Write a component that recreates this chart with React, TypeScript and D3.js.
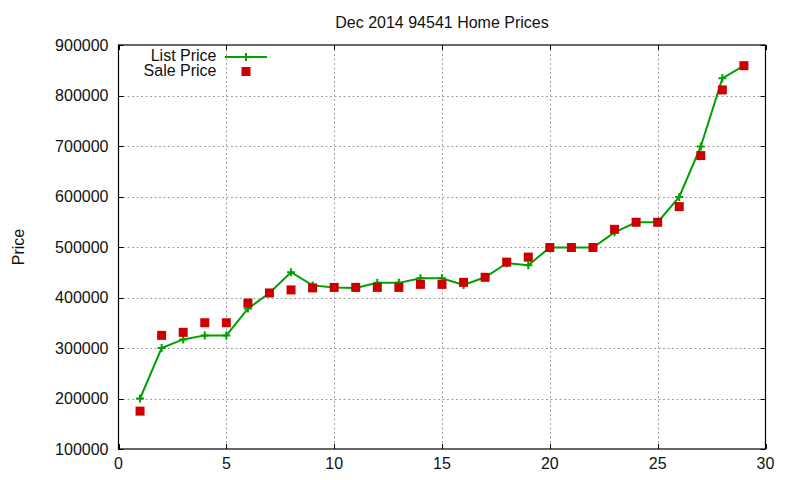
import React from "react";
import * as d3 from "d3";

const days = [1, 2, 3, 4, 5, 6, 7, 8, 9, 10, 11, 12, 13, 14, 15, 16, 17, 18, 19, 20, 21, 22, 23, 24, 25, 26, 27, 28, 29];
const listPrice = [200000, 300000, 317000, 325000, 325000, 378000, 409000, 450000, 424000, 420000, 419000, 429000, 429000, 438000, 438000, 425000, 440000, 468000, 464000, 499000, 499000, 499000, 529000, 549000, 549000, 599000, 699000, 834000, 859000];
const salePrice = [175000, 325000, 331000, 350000, 350000, 389000, 409000, 415000, 419000, 420000, 420000, 420000, 420000, 426000, 426000, 430000, 440000, 470000, 480000, 499000, 499000, 499000, 535000, 549000, 549000, 580000, 681000, 811000, 859000];
const xTicks = [0, 5, 10, 15, 20, 25, 30];
const yTicks = [100000, 200000, 300000, 400000, 500000, 600000, 700000, 800000, 900000];
const title = "Dec 2014 94541 Home Prices";
const yLabel = "Price";
const seriesNames = ["List Price", "Sale Price"];

const W = 800;
const H = 480;
const M = { left: 118.5, right: 765.5, top: 45, bottom: 449 };
const FONT = "'Liberation Sans', Arial, sans-serif";
const GREEN = "#00a000";
const RED = "#cc0000";
const FS = 16;
const TXT = "#111";

export default function App() {
  const x = d3.scaleLinear().domain([0, 30]).range([M.left, M.right]);
  const y = d3.scaleLinear().domain([100000, 900000]).range([M.bottom, M.top]);
  const pts: [number, number][] = days.map((d, i) => [x(d), y(listPrice[i])]);
  const line = d3.line()(pts) || "";
  const tick = 5;
  const plus = (cx: number, cy: number, r: number, key: string) => (
    <path key={key} d={`M${cx - r},${cy}H${cx + r}M${cx},${cy - r}V${cy + r}`} stroke={GREEN} strokeWidth={2} fill="none" />
  );
  return (
    <svg width={W} height={H} style={{ position: "fixed", left: 0, top: 0, display: "block", background: "#fff" }} fontFamily={FONT}>
      <rect x={0} y={0} width={W} height={H} fill="#fff" />
      {/* grid */}
      <g stroke="#a0a0a0" strokeWidth={1} strokeDasharray="2,2.5">
        {xTicks.slice(1, -1).map((t) => (
          <line key={"gx" + t} x1={Math.round(x(t)) + 0.5} x2={Math.round(x(t)) + 0.5} y1={M.top} y2={M.bottom} />
        ))}
        {yTicks.slice(1, -1).map((t) => (
          <line key={"gy" + t} x1={M.left} x2={M.right} y1={Math.round(y(t)) + 0.5} y2={Math.round(y(t)) + 0.5} />
        ))}
      </g>
      {/* ticks */}
      <g stroke="#000" strokeWidth={1}>
        {xTicks.map((t) => (
          <g key={"tx" + t}>
            <line x1={Math.round(x(t)) + 0.5} x2={Math.round(x(t)) + 0.5} y1={M.bottom} y2={M.bottom - tick} />
            <line x1={Math.round(x(t)) + 0.5} x2={Math.round(x(t)) + 0.5} y1={M.top} y2={M.top + tick} />
          </g>
        ))}
        {yTicks.map((t) => (
          <g key={"ty" + t}>
            <line x1={M.left} x2={M.left + tick} y1={Math.round(y(t)) + 0.5} y2={Math.round(y(t)) + 0.5} />
            <line x1={M.right} x2={M.right - tick} y1={Math.round(y(t)) + 0.5} y2={Math.round(y(t)) + 0.5} />
          </g>
        ))}
      </g>
      <rect x={M.left} y={M.top} width={M.right - M.left} height={M.bottom - M.top} fill="none" stroke="#000" strokeWidth={1.2} />
      {/* tick labels */}
      <g fontSize={FS} fill={TXT}>
        {xTicks.map((t) => (
          <text key={"lx" + t} x={x(t)} y={468.5} textAnchor="middle">{t}</text>
        ))}
        {yTicks.map((t) => (
          <text key={"ly" + t} x={108.5} y={y(t) + 5.5} textAnchor="end">{t}</text>
        ))}
      </g>
      <text x={(M.left + M.right) / 2} y={27.5} textAnchor="middle" fontSize={FS} fill={TXT}>{title}</text>
      <text transform={`translate(23.5,${(M.top + M.bottom) / 2}) rotate(-90)`} textAnchor="middle" fontSize={FS} fill={TXT}>{yLabel}</text>
      {/* list price line */}
      <path d={line} fill="none" stroke={GREEN} strokeWidth={2} />
      {pts.map((p, i) => plus(p[0], p[1], 4, "p" + i))}
      {/* sale points */}
      {days.map((d, i) => (
        <rect key={"s" + i} x={x(d) - 4.5} y={y(salePrice[i]) - 4.5} width={9} height={9} fill={RED} />
      ))}
      {/* legend */}
      <g fontSize={FS} fill={TXT}>
        <text x={216.5} y={61} textAnchor="end">{seriesNames[0]}</text>
        <text x={216.5} y={75.5} textAnchor="end">{seriesNames[1]}</text>
      </g>
      <line x1={225} x2={267} y1={57} y2={57} stroke={GREEN} strokeWidth={2} />
      {plus(246, 57, 4, "lp")}
      <rect x={241.5} y={67} width={9} height={9} fill={RED} />
    </svg>
  );
}
